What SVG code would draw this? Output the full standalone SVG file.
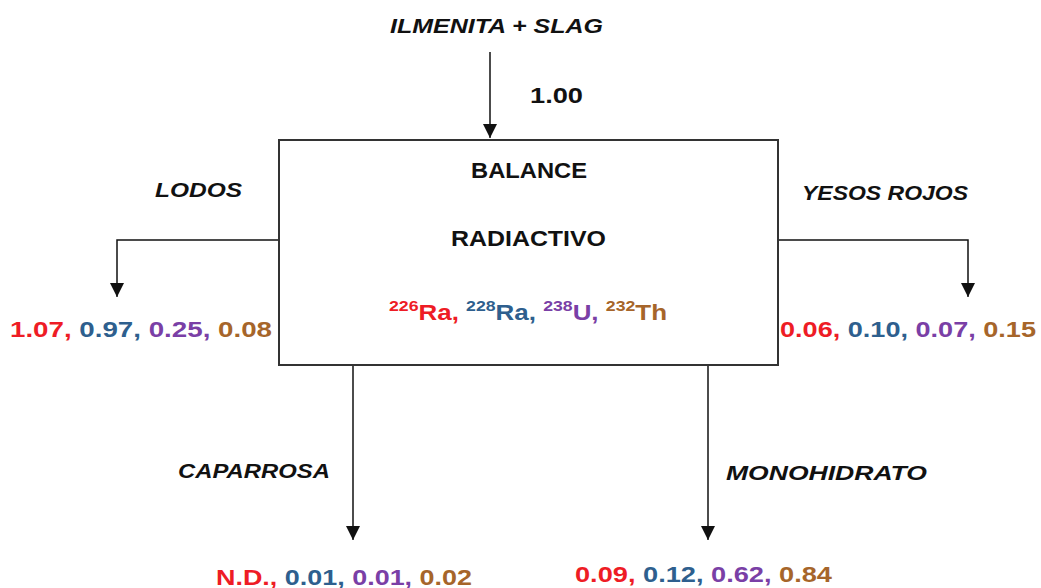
<svg xmlns="http://www.w3.org/2000/svg" width="1041" height="588" viewBox="0 0 1041 588">
<style>
text{font-family:"Liberation Sans",Arial,sans-serif;font-weight:bold;}
.lbl{font-size:21px;font-style:italic;fill:#111;}
.ttl{font-size:22px;fill:#111;}
.val{font-size:22px;}
.r{fill:#ee1c25}.b{fill:#2e5f8e}.p{fill:#7a3fa6}.o{fill:#a6652a}
.ln{stroke:#111;stroke-width:1.5;fill:none;}
</style>
<defs>
<marker id="ah" viewBox="0 0 12 14" refX="14" refY="7" markerWidth="14" markerHeight="14" markerUnits="userSpaceOnUse" orient="auto">
<path d="M0,0 L14,7 L0,14 Z" fill="#111"/>
</marker>
</defs>
<g id="connectors">
<line class="ln" x1="490" y1="52" x2="490" y2="138" marker-end="url(#ah)"/>
<polyline class="ln" points="279,240 117,240 117,297" marker-end="url(#ah)"/>
<polyline class="ln" points="778,240 968,240 968,297" marker-end="url(#ah)"/>
<line class="ln" x1="353" y1="365" x2="353" y2="540" marker-end="url(#ah)"/>
<line class="ln" x1="708" y1="365" x2="708" y2="540" marker-end="url(#ah)"/>
</g>
<g id="input">
<text class="lbl" x="390" y="33" textLength="213" lengthAdjust="spacingAndGlyphs">ILMENITA + SLAG</text>
<text class="ttl" x="530" y="103" textLength="53" lengthAdjust="spacingAndGlyphs">1.00</text>
</g>
<g id="balance">
<rect x="279" y="140" width="499" height="225" fill="#fff" stroke="#333" stroke-width="2"/>
<text class="ttl" x="471" y="178" textLength="116" lengthAdjust="spacingAndGlyphs">BALANCE</text>
<text class="ttl" x="451" y="246" textLength="155" lengthAdjust="spacingAndGlyphs">RADIACTIVO</text>
<text x="389" y="320" class="val" textLength="278" lengthAdjust="spacingAndGlyphs"><tspan class="r" font-size="15" dy="-9">226</tspan><tspan class="r" dy="9">Ra, </tspan><tspan class="b" font-size="15" dy="-9">228</tspan><tspan class="b" dy="9">Ra, </tspan><tspan class="p" font-size="15" dy="-9">238</tspan><tspan class="p" dy="9">U, </tspan><tspan class="o" font-size="15" dy="-9">232</tspan><tspan class="o" dy="9">Th</tspan></text>
</g>
<g id="lodos">
<text class="lbl" x="155" y="197" textLength="87" lengthAdjust="spacingAndGlyphs">LODOS</text>
<text class="val" x="10" y="337" textLength="262" lengthAdjust="spacingAndGlyphs"><tspan class="r">1.07, </tspan><tspan class="b">0.97, </tspan><tspan class="p">0.25, </tspan><tspan class="o">0.08</tspan></text>
</g>
<g id="yesos">
<text class="lbl" x="802" y="200" textLength="166" lengthAdjust="spacingAndGlyphs">YESOS ROJOS</text>
<text class="val" x="780" y="337" textLength="256" lengthAdjust="spacingAndGlyphs"><tspan class="r">0.06, </tspan><tspan class="b">0.10, </tspan><tspan class="p">0.07, </tspan><tspan class="o">0.15</tspan></text>
</g>
<g id="caparrosa">
<text class="lbl" x="178" y="478" textLength="152" lengthAdjust="spacingAndGlyphs">CAPARROSA</text>
<text class="val" x="216" y="585" textLength="256" lengthAdjust="spacingAndGlyphs"><tspan class="r">N.D., </tspan><tspan class="b">0.01, </tspan><tspan class="p">0.01, </tspan><tspan class="o">0.02</tspan></text>
</g>
<g id="monohidrato">
<text class="lbl" x="726" y="480" textLength="201" lengthAdjust="spacingAndGlyphs">MONOHIDRATO</text>
<text class="val" x="575" y="582" textLength="257" lengthAdjust="spacingAndGlyphs"><tspan class="r">0.09, </tspan><tspan class="b">0.12, </tspan><tspan class="p">0.62, </tspan><tspan class="o">0.84</tspan></text>
</g>
</svg>
